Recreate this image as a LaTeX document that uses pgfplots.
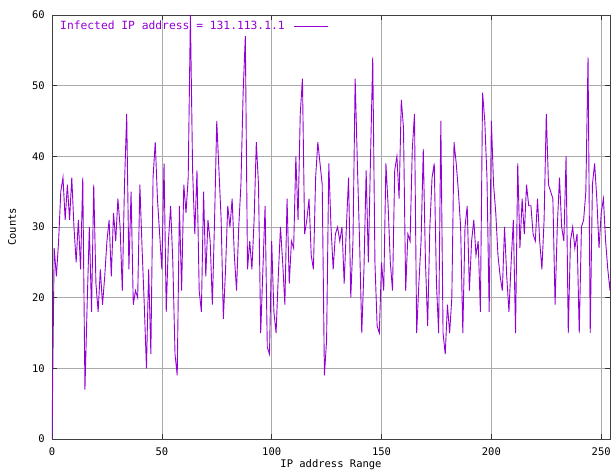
\documentclass[border=0pt]{standalone}
\usepackage{fontspec}
\setmainfont{DejaVu Sans Mono}
\usepackage{pgfplots}
\pgfplotsset{compat=1.18}

\definecolor{vio}{RGB}{148,0,211}
\definecolor{gridgray}{RGB}{170,170,170}

% infected IP 131.113.1.1: counts per address in the range
\pgfplotstableread{
x y
0 0
1 27
2 23
3 28
4 35
5 37
6 31
7 36
8 31
9 37
10 30
11 25
12 31
13 24
14 37
15 7
16 19
17 30
18 18
19 36
20 22
21 18
22 24
23 19
24 23
25 28
26 31
27 23
28 32
29 28
30 34
31 30
32 21
33 36
34 46
35 24
36 35
37 19
38 21
39 20
40 36
41 27
42 19
43 10
44 24
45 12
46 37
47 42
48 34
49 29
50 24
51 39
52 18
53 28
54 33
55 25
56 12
57 9
58 33
59 21
60 36
61 32
62 37
63 60
64 38
65 29
66 38
67 21
68 18
69 35
70 23
71 31
72 28
73 19
74 31
75 45
76 38
77 31
78 17
79 24
80 33
81 30
82 34
83 26
84 21
85 30
86 36
87 49
88 57
89 24
90 28
91 24
92 31
93 42
94 36
95 15
96 24
97 33
98 13
99 12
100 28
101 18
102 15
103 23
104 30
105 25
106 19
107 34
108 22
109 28
110 27
111 40
112 31
113 46
114 51
115 29
116 31
117 34
118 26
119 24
120 37
121 42
122 39
123 36
124 9
125 14
126 39
127 30
128 24
129 29
130 30
131 28
132 30
133 22
134 30
135 37
136 20
137 28
138 51
139 39
140 28
141 15
142 24
143 38
144 25
145 40
146 54
147 25
148 16
149 15
150 25
151 21
152 39
153 33
154 25
155 21
156 38
157 40
158 34
159 48
160 44
161 21
162 29
163 28
164 41
165 46
166 15
167 22
168 28
169 41
170 25
171 16
172 30
173 37
174 39
175 22
176 15
177 45
178 15
179 12
180 19
181 15
182 20
183 42
184 39
185 35
186 30
187 15
188 30
189 33
190 21
191 28
192 31
193 26
194 28
195 18
196 49
197 45
198 37
199 18
200 45
201 36
202 32
203 26
204 23
205 21
206 30
207 23
208 18
209 25
210 31
211 15
212 39
213 27
214 34
215 29
216 36
217 33
218 33
219 29
220 28
221 34
222 28
223 24
224 31
225 46
226 36
227 35
228 34
229 19
230 30
231 37
232 30
233 28
234 40
235 15
236 28
237 30
238 27
239 29
240 15
241 30
242 31
243 35
244 54
245 15
246 36
247 39
248 34
249 27
250 32
251 34
252 28
253 24
254 21
255 27
}\ipdata

\begin{document}
\begin{tikzpicture}
\begin{axis}[
  scale only axis,
  width=558pt, height=424pt,
  xmin=0, xmax=254, ymin=0, ymax=60,
  xtick={0,50,...,250}, ytick={0,10,...,60},
  grid=major,
  major grid style={gridgray, line width=0.6pt},
  axis line style={black!75, line width=0.8pt},
  tick align=inside,
  major tick length=5pt,
  tick style={black!80, line width=0.6pt},
  font=\fontsize{10.5}{12}\selectfont,
  /pgf/number format/assume math mode=true,
  xticklabel style={anchor=center, yshift=-13pt},
  yticklabel style={anchor=east, inner sep=0pt, xshift=-7pt},
  xlabel={IP address Range},
  ylabel={Counts},
  x label style={at={(axis description cs:0.5,0)}, anchor=center, yshift=-26pt},
  y label style={at={(axis description cs:-0.0717,0.5)}, anchor=center},
  legend plot pos=right,
  legend image code/.code={\path (0pt,0pt); \draw[#1] (7pt,0pt) -- (41pt,0pt);},
  legend style={at={(axis description cs:0,1)}, anchor=north west,
    draw=none, fill=none, xshift=3pt, yshift=-2pt,
    font=\fontsize{11.3}{13}\selectfont, text=vio},
]
\addplot[vio, line width=0.9pt, mark=none] table[x=x, y=y] {\ipdata};
\addlegendentry{Infected IP address = 131.113.1.1}
\coordinate (pSW) at (rel axis cs:0,0);
\coordinate (pNE) at (rel axis cs:1,1);
\end{axis}
\pgfresetboundingbox
\path[use as bounding box] ([shift={(-52pt,-31pt)}]pSW) rectangle ([shift={(1pt,15pt)}]pNE);
\end{tikzpicture}
\end{document}
